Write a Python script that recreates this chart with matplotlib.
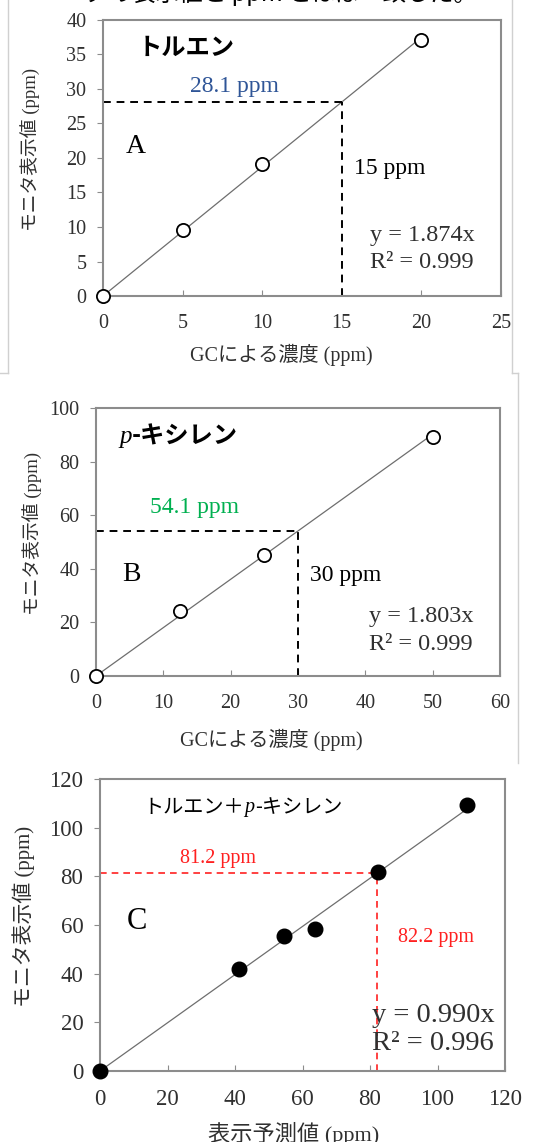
import matplotlib
matplotlib.use('Agg')
import matplotlib.pyplot as plt
from matplotlib.lines import Line2D

plt.rcParams['font.family'] = ['Liberation Serif', 'Noto Sans CJK JP']
plt.rcParams['axes.unicode_minus'] = False

# --- data ---
# A: toluene
tol_x = [0, 5, 10, 20]
tol_y = [0, 9.6, 19.2, 37.1]
tol_slope = 1.874
tol_gc = 15
tol_read = 28.1

# B: p-xylene
xyl_x = [0, 12.5, 25, 50]
xyl_y = [0, 24.3, 45.3, 89.2]
xyl_slope = 1.803
xyl_gc = 30
xyl_read = 54.1

# C: mixture
mix_x = [0, 41.2, 54.4, 63.8, 82.4, 108.8]
mix_y = [0, 41.7, 55.5, 58.3, 81.6, 109.2]
mix_slope = 0.990
mix_pred = 82.2
mix_read = 81.2

GRAY = '#8c8c8c'
LINE = '#6e6e6e'
TXT = '#303030'


def style_axes(ax, xmax, xstep, ymax, ystep, fs):
    ax.set_xlim(0, xmax)
    ax.set_ylim(0, ymax)
    ax.set_xticks(range(0, xmax + 1, xstep))
    ax.set_yticks(range(0, ymax + 1, ystep))
    for s in ax.spines.values():
        s.set_color(GRAY)
        s.set_linewidth(1.5)
    ax.tick_params(axis='x', direction='in', length=4, color=GRAY,
                   pad=13, labelsize=fs, labelcolor=TXT)
    ax.tick_params(axis='y', direction='out', length=4, color=GRAY,
                   pad=8, labelsize=fs, labelcolor=TXT)


fig = plt.figure(figsize=(5.38, 11.42), dpi=100)

# cropped caption above the chart
fig.text(0.5, 1.0 + 0.0062, 'ニタの表示値と ppm とほぼ一致した。', ha='center', va='center',
         fontsize=17, color='black', family=['Noto Sans CJK JP'])

# frame lines of the pasted pictures
for seg in [((8, 8), (0, 373)), ((0, 8), (373, 373)),
            ((512, 512), (0, 373)), ((512, 518), (373, 373)),
            ((518, 518), (373, 763))]:
    fig.add_artist(Line2D([seg[0][0] / 538, seg[0][1] / 538],
                          [1 - seg[1][0] / 1142, 1 - seg[1][1] / 1142],
                          color='#d0d0d0', lw=1))

# ---------------- A ----------------
axA = fig.add_axes([0.1914, 0.7408, 0.7398, 0.2417])
style_axes(axA, 25, 5, 40, 5, 14.5)
axA.plot([0, tol_x[-1]], [0, tol_slope * tol_x[-1]], color=LINE, lw=0.9)
axA.plot(tol_x, tol_y, 'o', mfc='white', mec='black', mew=1.3, ms=9.5,
         clip_on=False, zorder=5)
axA.plot([0, tol_gc], [tol_read, tol_read], 'k--', lw=1.4, dashes=(4, 3))
axA.plot([tol_gc, tol_gc], [0, tol_read], 'k--', lw=1.4, dashes=(4, 3))
axA.text(2.2, 36, 'トルエン', fontsize=17.5, fontweight='bold', va='center',
         family=['Noto Sans CJK JP'])
axA.text(5.45, 30.3, '28.1 ppm', fontsize=17, color='#2f5597', va='center')
axA.text(1.45, 21.7, 'A', fontsize=20, va='center')
axA.text(15.75, 18.5, '15 ppm', fontsize=17, va='center')
axA.text(16.8, 8.7, 'y = 1.874x', fontsize=17.5, va='center', color=TXT)
axA.text(16.8, 4.8, 'R² = 0.999', fontsize=17.5, va='center', color=TXT)
axA.set_xlabel('GCによる濃度 (ppm)', fontsize=14.5, color=TXT, va='center')
axA.set_ylabel('モニタ表示値 (ppm)', fontsize=13.5, color=TXT, va='center')
axA.xaxis.set_label_coords(0.447, -0.214)
axA.yaxis.set_label_coords(-0.183, 0.53)

# ---------------- B ----------------
axB = fig.add_axes([0.1784, 0.4081, 0.7509, 0.2347])
style_axes(axB, 60, 10, 100, 20, 14.5)
axB.plot([0, xyl_x[-1]], [0, xyl_slope * xyl_x[-1]], color=LINE, lw=0.9)
axB.plot(xyl_x, xyl_y, 'o', mfc='white', mec='black', mew=1.3, ms=9.5,
         clip_on=False, zorder=5)
axB.plot([0, xyl_gc], [xyl_read, xyl_read], 'k--', lw=1.4, dashes=(4, 3))
axB.plot([xyl_gc, xyl_gc], [0, xyl_read], 'k--', lw=1.4, dashes=(4, 3))
tp = axB.text(3.5, 89.2, 'p', fontsize=18, fontstyle='italic', va='center')
axB.annotate('-キシレン', xy=(1, 0.5), xycoords=tp, va='center', ha='left',
             fontsize=17.5, fontweight='bold', family=['Noto Sans CJK JP'])
axB.text(8.0, 62.7, '54.1 ppm', fontsize=17, color='#00b050', va='center')
axB.text(3.9, 37.7, 'B', fontsize=20, va='center')
axB.text(31.8, 37.3, '30 ppm', fontsize=17, va='center')
axB.text(40.6, 22.0, 'y = 1.803x', fontsize=17.5, va='center', color=TXT)
axB.text(40.6, 11.6, 'R² = 0.999', fontsize=17.5, va='center', color=TXT)
axB.set_xlabel('GCによる濃度 (ppm)', fontsize=14.5, color=TXT, va='center')
axB.set_ylabel('モニタ表示値 (ppm)', fontsize=13.5, color=TXT, va='center')
axB.xaxis.set_label_coords(0.433, -0.239)
axB.yaxis.set_label_coords(-0.158, 0.53)

# ---------------- C ----------------
axC = fig.add_axes([0.1859, 0.0622, 0.7528, 0.2557])
style_axes(axC, 120, 20, 120, 20, 16.5)
axC.plot([0, mix_x[-1]], [0, mix_slope * mix_x[-1]], color=LINE, lw=0.9)
axC.plot(mix_x, mix_y, 'o', color='black', ms=10.5, clip_on=False, zorder=5)
axC.plot([0, mix_pred], [mix_read, mix_read], '--', color='#ff2020', lw=1.2,
         dashes=(4, 3))
axC.plot([mix_pred, mix_pred], [0, mix_read], '--', color='#ff2020', lw=1.2,
         dashes=(4, 3))
t1 = axC.text(13.0, 108.1, 'トルエン＋', fontsize=14.5, va='center',
              family=['Noto Sans CJK JP'])
t2 = axC.annotate('p', xy=(1, 0.5), xycoords=t1, va='center', ha='left',
                  fontsize=14.5, fontstyle='italic')
axC.annotate('-キシレン', xy=(1, 0.5), xycoords=t2, va='center', ha='left',
             fontsize=14.5, family=['Noto Sans CJK JP'])
axC.text(23.7, 87.5, '81.2 ppm', fontsize=14.5, color='#ff2020', va='center')
axC.text(8.0, 61.6, 'C', fontsize=22, va='center')
axC.text(88.3, 54.7, '82.2 ppm', fontsize=14.5, color='#ff2020', va='center')
axC.text(80.6, 22.6, 'y = 0.990x', fontsize=20.5, va='center', color=TXT)
axC.text(80.6, 11.1, 'R² = 0.996', fontsize=20.5, va='center', color=TXT)
axC.set_xlabel('表示予測値 (ppm)', fontsize=16, color=TXT, va='center')
axC.set_ylabel('モニタ表示値 (ppm)', fontsize=15, color=TXT, va='center')
axC.xaxis.set_label_coords(0.477, -0.215)
axC.yaxis.set_label_coords(-0.188, 0.53)

fig.savefig('out.png', dpi=100)
